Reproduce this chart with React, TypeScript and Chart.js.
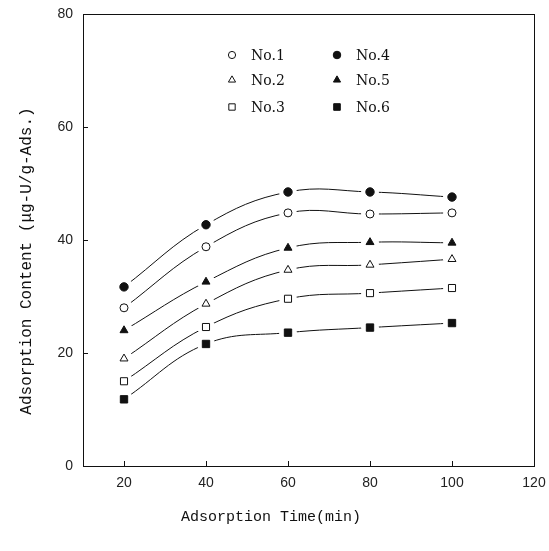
import React, { useEffect, useRef } from "react";
import { Chart, registerables } from "chart.js";
import { drawPoint } from "chart.js/helpers";

Chart.register(...registerables);

const times = [20, 40, 60, 80, 100];
const no1 = [28, 38.8, 44.8, 44.6, 44.8];
const no2 = [19, 28.7, 34.7, 35.6, 36.6];
const no3 = [15, 24.6, 29.6, 30.6, 31.5];
const no4 = [31.7, 42.7, 48.5, 48.5, 47.6];
const no5 = [24, 32.6, 38.6, 39.6, 39.5];
const no6 = [11.8, 21.6, 23.6, 24.5, 25.3];
const xTicks = [20, 40, 60, 80, 100, 120];
const yTicks = [0, 20, 40, 60, 80];
const xTitle = "Adsorption Time(min)";
const yTitle = "Adsorption Content (\u03bcg-U/g-Ads.)";

const seriesDefs = [
  { label: "No.1", data: no1, style: "circle", filled: false, r: 4 },
  { label: "No.2", data: no2, style: "triangle", filled: false, r: 4.6 },
  { label: "No.3", data: no3, style: "rect", filled: false, r: 5 },
  { label: "No.4", data: no4, style: "circle", filled: true, r: 4.2 },
  { label: "No.5", data: no5, style: "triangle", filled: true, r: 4.6 },
  { label: "No.6", data: no6, style: "rect", filled: true, r: 5.2 },
];

const decorPlugin = {
  id: "decor",
  afterDatasetsDraw(chart: any) {
    const ctx = chart.ctx;
    const area = chart.chartArea;
    const xs = chart.scales.x;
    const ys = chart.scales.y;
    ctx.save();
    chart.data.datasets.forEach((ds: any, i: number) => {
      const meta = chart.getDatasetMeta(i);
      meta.data.forEach((pt: any) => {
        ctx.beginPath();
        ctx.fillStyle = "#ffffff";
        ctx.arc(pt.x, pt.y, 9, 0, Math.PI * 2);
        ctx.fill();
      });
    });
    chart.data.datasets.forEach((ds: any, i: number) => {
      const meta = chart.getDatasetMeta(i);
      meta.data.forEach((pt: any) => {
        ctx.fillStyle = ds.pointBackgroundColor;
        ctx.strokeStyle = "#111";
        ctx.lineWidth = 1;
        drawPoint(ctx, { pointStyle: ds.pointStyle, radius: ds.pointRadius, rotation: 0, borderWidth: 1 } as any, pt.x, pt.y);
      });
    });
    ctx.strokeStyle = "#111";
    ctx.lineWidth = 1;
    ctx.strokeRect(Math.round(area.left) + 0.5, Math.round(area.top) + 0.5, Math.round(area.right - area.left), Math.round(area.bottom - area.top));
    ctx.beginPath();
    xTicks.forEach((v) => {
      const x = Math.round(xs.getPixelForValue(v)) + 0.5;
      ctx.moveTo(x, area.bottom);
      ctx.lineTo(x, area.bottom - 5);
    });
    yTicks.forEach((v) => {
      const y = Math.round(ys.getPixelForValue(v)) + 0.5;
      ctx.moveTo(area.left, y);
      ctx.lineTo(area.left + 5, y);
    });
    ctx.stroke();
    ctx.fillStyle = "#111";
    ctx.textAlign = "center";
    ctx.textBaseline = "middle";
    ctx.font = "15px 'Liberation Mono'";
    ctx.fillText(xTitle, 271, 517);
    ctx.save();
    ctx.translate(27, 261);
    ctx.rotate(-Math.PI / 2);
    ctx.font = "16px 'Liberation Mono'";
    ctx.fillText(yTitle, 0, 0);
    ctx.restore();
    const colX = [232, 337];
    const rowY = [55, 80, 107];
    ctx.font = "14px 'DejaVu Serif'";
    ctx.textAlign = "left";
    chart.data.datasets.forEach((ds: any, i: number) => {
      const col = Math.floor(i / 3);
      const row = i % 3;
      const x = colX[col];
      const y = rowY[row];
      ctx.fillStyle = ds.pointBackgroundColor;
      ctx.strokeStyle = "#111";
      ctx.lineWidth = 1;
      drawPoint(ctx, { pointStyle: ds.pointStyle, radius: ds.pointRadius * 0.9, rotation: 0, borderWidth: 1 } as any, x, y);
      ctx.fillStyle = "#111";
      ctx.fillText(ds.label, x + 19, y + 1);
    });
    ctx.restore();
  },
};

export default function App() {
  const ref = useRef<HTMLCanvasElement>(null);
  useEffect(() => {
    if (!ref.current) return;
    const chart = new Chart(ref.current, {
      type: "line",
      data: {
        datasets: seriesDefs.map((s) => ({
          label: s.label,
          data: times.map((t, i) => ({ x: t, y: s.data[i] })),
          borderColor: "#111",
          borderWidth: 1,
          tension: 0.4,
          fill: false,
          pointStyle: s.style,
          pointRadius: s.r,
          pointBackgroundColor: s.filled ? "#111" : "#ffffff",
          pointBorderColor: "#111",
          pointBorderWidth: 1,
        })),
      },
      options: {
        animation: false,
        responsive: false,
        layout: { padding: { left: 0, right: 15, top: 14, bottom: 0 } },
        plugins: { legend: { display: false }, tooltip: { enabled: false } },
        scales: {
          x: {
            type: "linear",
            min: 10,
            max: 120,
            afterBuildTicks: (s: any) => {
              s.ticks = xTicks.map((v) => ({ value: v }));
            },
            afterFit: (s: any) => {
              s.height = 85;
              s.paddingLeft = 0;
              s.paddingRight = 0;
            },
            grid: { display: false, drawTicks: false },
            border: { display: false },
            ticks: { padding: 9, color: "#222", font: { family: "'Liberation Sans'", size: 14 }, maxRotation: 0 },
          },
          y: {
            type: "linear",
            min: 0,
            max: 80,
            afterBuildTicks: (s: any) => {
              s.ticks = yTicks.map((v) => ({ value: v }));
            },
            afterFit: (s: any) => {
              s.width = 83;
              s.paddingTop = 0;
              s.paddingBottom = 0;
            },
            grid: { display: false, drawTicks: false },
            border: { display: false },
            ticks: { padding: 10, color: "#222", font: { family: "'Liberation Sans'", size: 14 } },
          },
        },
      },
      plugins: [decorPlugin],
    } as any);
    return () => chart.destroy();
  }, []);
  return (
    <div style={{ position: "absolute", left: 0, top: 0, width: 549, height: 551, background: "#fff" }}>
      <canvas ref={ref} width={549} height={551} />
    </div>
  );
}
